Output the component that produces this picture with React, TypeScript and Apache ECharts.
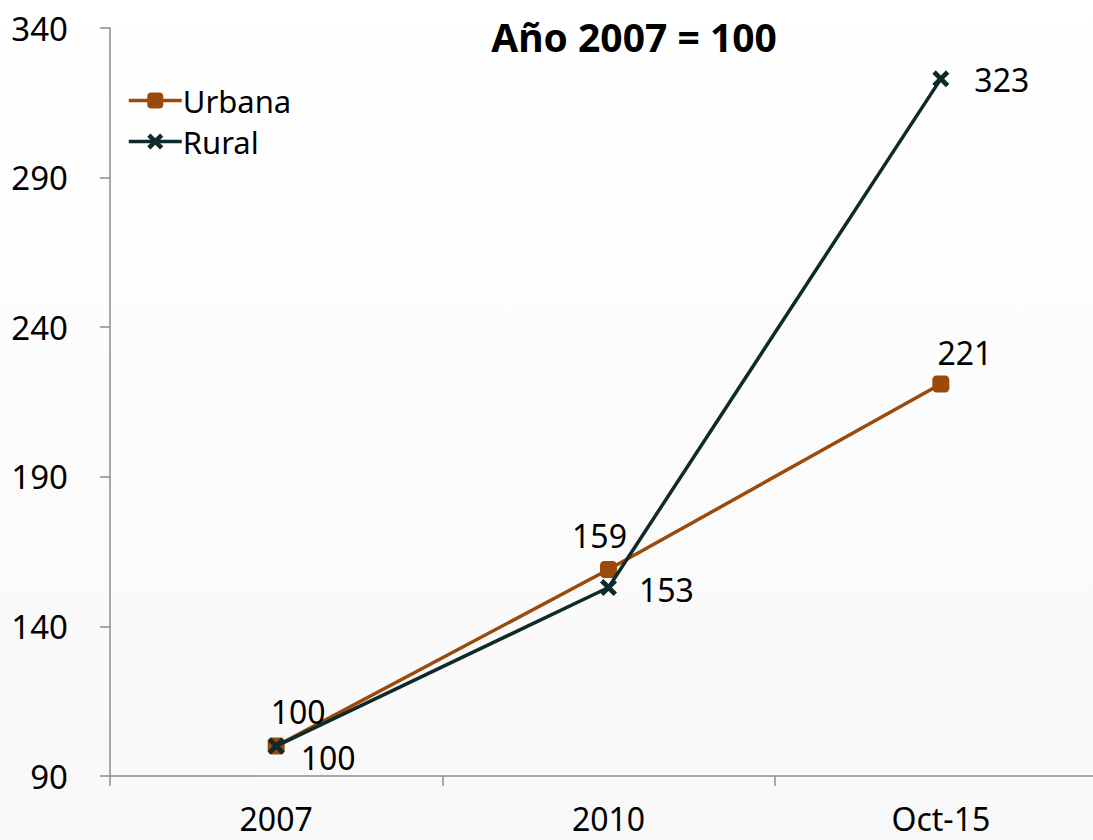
import React, { useEffect, useRef } from "react";
import * as echarts from "echarts";

const categories = ["2007", "2010", "Oct-15"];
const urbanaValues = [100, 159, 221];
const ruralValues = [100, 153, 323];
const yTicks = { min: 90, max: 340, interval: 50 };
const titleText = "Año 2007 = 100";

const urbanaLabelOffsets = [[22, 0], [-9, 0], [24, 3]];
const ruralLabelStyles = [{ distance: 16, offset: [0, 11] }, { distance: 22, offset: [0, 2] }, { distance: 25, offset: [0, 1] }];

const FONT = "'Noto Sans', 'Open Sans', sans-serif";
const URBANA = "#9C4A0A";
const RURAL = "#0E2A2A";
const X_SYMBOL =
  "path://M0,2 L2,0 L5,3 L8,0 L10,2 L7,5 L10,8 L8,10 L5,7 L2,10 L0,8 L3,5 Z";

export default function App() {
  const ref = useRef<HTMLDivElement>(null);
  useEffect(() => {
    document.body.style.margin = "0";
    const chart = echarts.init(ref.current!, null, { renderer: "svg" });
    chart.setOption({
      animation: false,
      backgroundColor: new echarts.graphic.LinearGradient(0, 0, 0, 1, [
        { offset: 0, color: "#ffffff" },
        { offset: 1, color: "#f8f8f8" },
      ]),
      textStyle: { fontFamily: FONT },
      title: {
        text: titleText,
        left: 629,
        top: 12,
        textAlign: "center",
        textStyle: { fontFamily: FONT, fontWeight: "bold", fontSize: 39, color: "#000" },
      },
      legend: {
        left: 122,
        top: 80,
        orient: "vertical",
        itemWidth: 53,
        itemHeight: 20,
        itemGap: 10,
        lineStyle: { width: 3.5 },
        textStyle: { fontFamily: FONT, fontSize: 31, color: "#000", padding: [0, 0, 0, -4] },
        data: ["Urbana", "Rural"],
      },
      grid: { left: 110, right: 0, top: 28, bottom: 64, containLabel: false },
      xAxis: {
        type: "category",
        data: categories,
        boundaryGap: true,
        axisLine: { lineStyle: { color: "#8c8c8c", width: 1.5 } },
        axisTick: { show: true, length: 10, lineStyle: { color: "#8c8c8c", width: 1.5 } },
        axisLabel: { fontFamily: FONT, fontSize: 32, color: "#000", margin: 26, lineHeight: 32 },
        splitLine: { show: false },
      },
      yAxis: {
        type: "value",
        min: yTicks.min,
        max: yTicks.max,
        interval: yTicks.interval,
        axisLine: { show: true, lineStyle: { color: "#8c8c8c", width: 1.5 } },
        axisTick: { show: true, length: 10, lineStyle: { color: "#8c8c8c", width: 1.5 } },
        axisLabel: { fontFamily: FONT, fontSize: 33, color: "#000", margin: 42, align: "right" },
        splitLine: { show: false },
      },
      series: [
        {
          name: "Urbana",
          type: "line",
          data: urbanaValues.map((v, i) => ({
            value: v,
            label: { offset: urbanaLabelOffsets[i] },
          })),
          symbol: "roundRect",
          symbolSize: 17,
          showAllSymbol: true,
          lineStyle: { color: URBANA, width: 3.5 },
          itemStyle: { color: URBANA },
          label: {
            show: true,
            position: "top",
            distance: 10,
            fontFamily: FONT,
            fontSize: 32,
            color: "#000",
          },
          z: 2,
        },
        {
          name: "Rural",
          type: "line",
          data: ruralValues.map((v, i) => ({
            value: v,
            label: { distance: ruralLabelStyles[i].distance, offset: ruralLabelStyles[i].offset },
          })),
          symbol: X_SYMBOL,
          symbolSize: 17,
          showAllSymbol: true,
          lineStyle: { color: RURAL, width: 3.5 },
          itemStyle: { color: RURAL },
          label: {
            show: true,
            position: "right",
            fontFamily: FONT,
            fontSize: 32,
            color: "#000",
          },
          z: 3,
        },
      ],
    });
    return () => chart.dispose();
  }, []);
  return (
    <div style={{ width: 1093, height: 840, overflow: "hidden" }}>
      <div ref={ref} style={{ width: 1107, height: 840 }} />
    </div>
  );
}
